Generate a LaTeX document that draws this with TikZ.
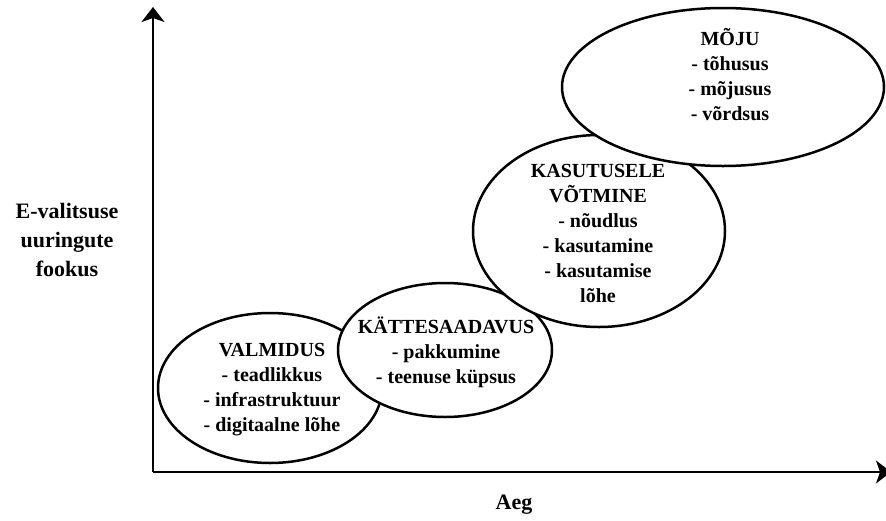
\documentclass[tikz,border=0pt]{standalone}
\usepackage{fontspec}
\setmainfont{Liberation Serif}
\usepackage{tikz}
\usetikzlibrary{shapes,arrows.meta,positioning}

\tikzset{
	phase/.style={draw,ellipse,fill=white,line width=2.5pt,inner sep=0pt},
	phasetext/.style={align=center,inner sep=0pt,font=\fontsize{20}{25}\selectfont\bfseries},
	axislabel/.style={align=center,inner sep=0pt,font=\fontsize{22}{29}\selectfont\bfseries},
	axis/.style={line width=1.8pt,-{Stealth[length=15pt,width=23pt,inset=4pt]}}
}

\begin{document}
\begin{tikzpicture}[x=1pt,y=-1pt]
			\useasboundingbox[fill=white] (0,0) rectangle (886,520);
			% axes
			\coordinate (origin) at (153,472);
			\coordinate (ytip) at (153,7);
			\coordinate (xtip) at (891,472);
			\draw[axis] (origin) -- (ytip);
			\draw[axis] (origin) -- (xtip);
			\node[axislabel] (focus) at (67,240) {E-valitsuse\\uuringute\\fookus};
			\node[axislabel] (time) at (514,505) {Aeg};
			% phases
			\node[phase,minimum width=224,minimum height=150] (valmidus) at (270,388) {};
			\node[phase,minimum width=214,minimum height=134] (kattesaadavus) at (445,350) {};
			\node[phase,minimum width=252,minimum height=192] (kasutusele) at (599,231) {};
			\node[phase,minimum width=322,minimum height=158] (moju) at (723,87) {};
			\node[phasetext] (valmidustext) at (272,390) {VALMIDUS\\- teadlikkus\\- infrastruktuur\\- digitaalne lõhe};
			\node[phasetext] (kattesaadavustext) at (446,352) {KÄTTESAADAVUS\\- pakkumine\\- teenuse küpsus};
			\node[phasetext] (kasutuseletext) at (598,233) {KASUTUSELE\\VÕTMINE\\- nõudlus\\- kasutamine\\- kasutamise\\lõhe};
			\node[phasetext] (mojutext) at (730,75) {MÕJU\\- tõhusus\\- mõjusus\\- võrdsus};
		\end{tikzpicture}
\end{document}
